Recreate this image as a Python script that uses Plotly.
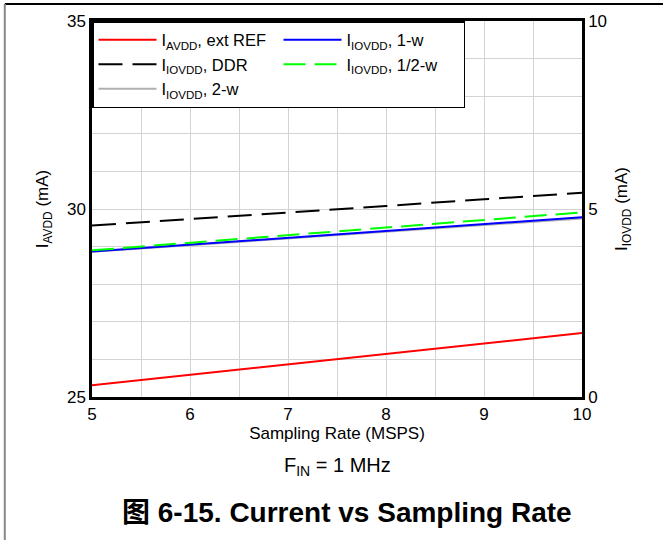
import plotly.graph_objects as go

# sampling rate (MSPS)
rate = [5, 6, 7, 8, 9, 10]

# IAVDD on left axis (mA)
iavdd_ext_ref = [25.31, 25.59, 25.87, 26.14, 26.42, 26.70]
# IOVDD on right axis (mA)
iovdd_ddr = [4.56, 4.73, 4.91, 5.08, 5.26, 5.43]
iovdd_1w = [3.87, 4.05, 4.23, 4.42, 4.60, 4.78]
iovdd_half_w = [3.90, 4.10, 4.30, 4.51, 4.71, 4.91]
iovdd_2w = [3.86, 4.04, 4.21, 4.39, 4.57, 4.75]

FONT = "Arial, Liberation Sans, Noto Sans CJK SC"

fig = go.Figure()
# 2-w first so it sits under the blue line
fig.add_trace(go.Scatter(x=rate, y=iovdd_2w, mode="lines", name="I<sub>IOVDD</sub>, 2-w", yaxis="y2",
                         line=dict(color="#b0b0b0", width=2), legendrank=5))
fig.add_trace(go.Scatter(x=rate, y=iavdd_ext_ref, mode="lines", name="I<sub>AVDD</sub>, ext REF",
                         line=dict(color="#ff0000", width=2), legendrank=1))
fig.add_trace(go.Scatter(x=rate, y=iovdd_1w, mode="lines", name="I<sub>IOVDD</sub>, 1-w", yaxis="y2",
                         line=dict(color="#0000ff", width=2), legendrank=2))
fig.add_trace(go.Scatter(x=rate, y=iovdd_ddr, mode="lines", name="I<sub>IOVDD</sub>, DDR", yaxis="y2",
                         line=dict(color="#000000", width=2, dash="24px,10px"), legendrank=3))
fig.add_trace(go.Scatter(x=rate, y=iovdd_half_w, mode="lines", name="I<sub>IOVDD</sub>, 1/2-w", yaxis="y2",
                         line=dict(color="#00ff00", width=2, dash="22px,9px"), legendrank=4))

fig.update_layout(
    width=663, height=542,
    margin=dict(l=92, r=81, t=18, b=145),
    paper_bgcolor="white", plot_bgcolor="white",
    font=dict(family=FONT, size=17, color="black"),
    showlegend=True,
    legend=dict(
        orientation="h", x=0, y=1, xanchor="left", yanchor="top",
        bgcolor="white", bordercolor="black", borderwidth=1.5,
        itemwidth=58, entrywidth=112, entrywidthmode="pixels", tracegroupgap=0,
        traceorder="normal", font=dict(size=16.5),
    ),
    xaxis=dict(
        range=[5, 10], dtick=1, tick0=5, showgrid=True, gridcolor="#d3d3d3", gridwidth=1,
        minor=dict(dtick=0.5, showgrid=True, gridcolor="#d3d3d3", gridwidth=1),
        showline=True, linecolor="black", linewidth=2.5, mirror=True,
        ticks="", zeroline=False,
        title=dict(text="Sampling Rate (MSPS)", standoff=2, font=dict(size=17)),
    ),
    yaxis=dict(
        range=[25, 35], dtick=5, tick0=25, showgrid=True, gridcolor="#d3d3d3", gridwidth=1,
        minor=dict(dtick=1, showgrid=True, gridcolor="#d3d3d3", gridwidth=1),
        showline=True, linecolor="black", linewidth=2.5, mirror=True,
        ticks="", zeroline=False,
        title=dict(text="I<sub>AVDD</sub> (mA)", standoff=14, font=dict(size=17)),
    ),
    yaxis2=dict(
        range=[0, 10], dtick=5, tick0=0, overlaying="y", side="right",
        showgrid=False, zeroline=False, showline=True, linecolor="black", linewidth=2.5,
        ticks="",
        title=dict(text="I<sub>IOVDD</sub> (mA)", standoff=10, font=dict(size=17)),
    ),
)

fig.add_annotation(text="F<sub>IN</sub> = 1 MHz", xref="paper", yref="paper", x=0.5, y=-0.185,
                   yanchor="middle", showarrow=False, font=dict(size=20))
fig.add_annotation(text="<b>图 6-15. Current vs Sampling Rate</b>", xref="paper", yref="paper",
                   x=0.52, y=-0.306, yanchor="middle", showarrow=False, font=dict(size=28))

# page frame lines
fig.add_shape(type="line", xref="paper", yref="paper", x0=-0.178, x1=1.17, y0=1.045, y1=1.045,
              line=dict(color="black", width=2))
fig.add_shape(type="line", xref="paper", yref="paper", x0=-0.178, x1=-0.178, y0=1.045, y1=-0.38,
              line=dict(color="#888888", width=2))

# page has no body margin so the figure starts at the window corner
fig.write_html("out.html", config={"displayModeBar": False},
               post_script="document.body.style.margin='0';")
